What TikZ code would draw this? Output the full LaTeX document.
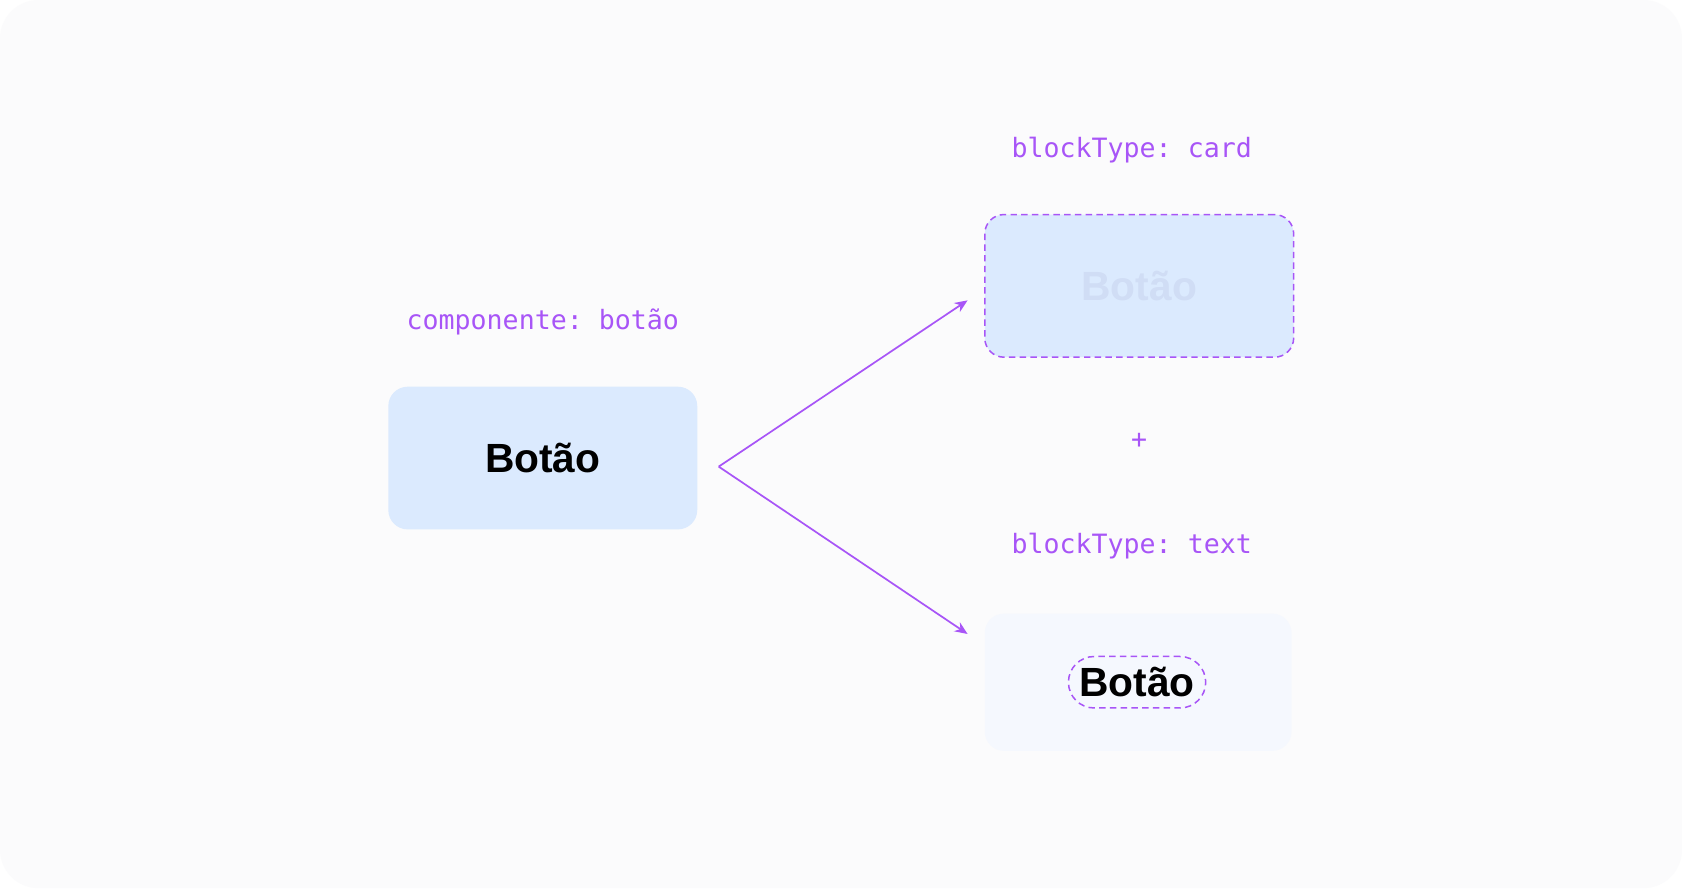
\documentclass[tikz,border=0pt]{standalone}
\usepackage{fontspec}
\setmainfont{Liberation Sans}
\setmonofont{DejaVu Sans Mono}
\usetikzlibrary{arrows.meta}
\definecolor{purp}{HTML}{A855F7}
\definecolor{boxb}{HTML}{DBEAFE}
\definecolor{bg}{HTML}{FBFBFC}
\definecolor{faint}{HTML}{F5F8FE}
\definecolor{ghost}{HTML}{D0DDF5}
\begin{document}
\begin{tikzpicture}[x=0.5pt,y=-0.5pt,
  lbl/.style={font=\ttfamily\fontsize{12.4}{14}\selectfont, text=purp},
  box/.style={rounded corners=9pt, minimum width=144pt, minimum height=66.5pt, font=\bfseries\fontsize{19}{22}\selectfont},
  arr/.style={purp, line width=0.8pt, -{Stealth[length=6pt,width=5pt]}},
  dashbox/.style={draw=purp, dash pattern=on 3pt off 2pt, line width=0.7pt}]
\useasboundingbox (0,0) rectangle (1568,828);
\fill[white] (0,0) rectangle (1568,828);
\fill[bg, rounded corners=18pt] (0,0) rectangle (1568,828);
\node[box, fill=boxb] (src) at (506,427) {Botão};
\node[lbl] (l1) at (506,300) {componente: botão};
\node[box, fill=boxb, dashbox, text=ghost] (card) at (1062,266.5) {Botão};
\node[lbl] (l2) at (1055,140) {blockType: card};
\node[lbl] (plus) at (1062,411) {+};
\node[lbl] (l3) at (1055,509) {blockType: text};
\node[box, fill=faint, minimum width=143pt, minimum height=64pt] (txtbox) at (1061,636) {};
\node[dashbox, rounded corners=12pt, minimum width=64pt, minimum height=24pt, inner sep=0pt, font=\bfseries\fontsize{19}{22}\selectfont] (txt) at (1060,636) {Botão};
\coordinate (o) at (670,435);
\coordinate (t1) at (902,280);
\coordinate (t2) at (902,591);
\draw[arr] (o) -- (t1);
\draw[arr] (o) -- (t2);
\end{tikzpicture}
\end{document}
